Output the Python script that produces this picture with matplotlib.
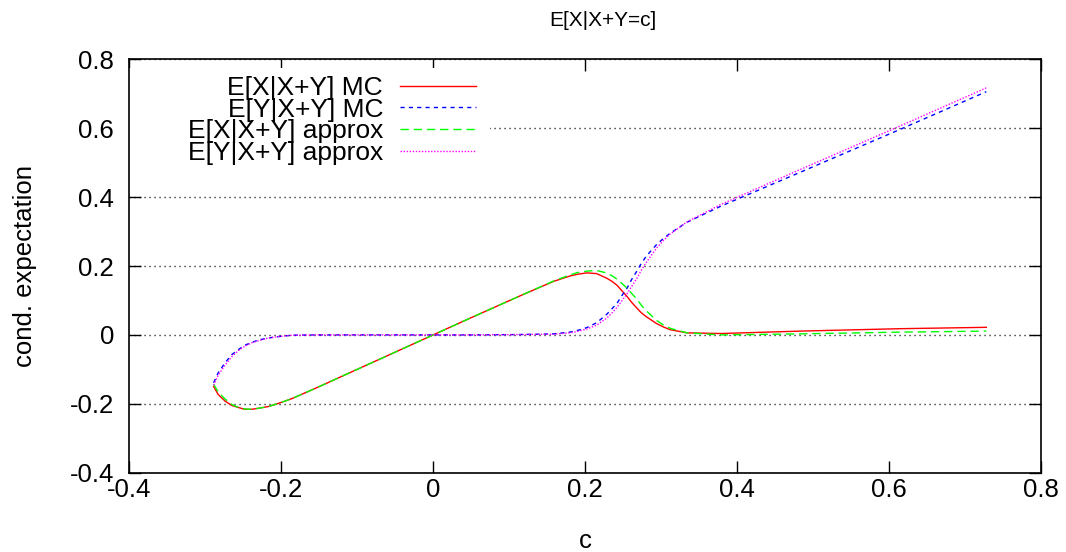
import matplotlib
matplotlib.use("Agg")
import matplotlib.pyplot as plt
from matplotlib.patches import Rectangle

plt.rcParams['font.family'] = ['Liberation Sans', 'DejaVu Sans']

# ---- data ----
c_vals = [-0.289, -0.283, -0.274, -0.265, -0.256, -0.248, -0.239, -0.230, -0.217,
          -0.204, -0.186, -0.156, -0.100, -0.050, 0.000, 0.050, 0.114, 0.158,
          0.180, 0.190, 0.202, 0.215, 0.228, 0.235, 0.242, 0.248, 0.255, 0.261,
          0.268, 0.274, 0.281, 0.294, 0.303, 0.312, 0.334, 0.378, 0.483, 0.614,
          0.728]

x_mc = [-0.150, -0.173, -0.192, -0.205, -0.211, -0.216, -0.216, -0.213, -0.208,
        -0.199, -0.185, -0.156, -0.100, -0.050, 0.000, 0.050, 0.113, 0.155,
        0.171, 0.176, 0.180, 0.178, 0.165, 0.156, 0.144, 0.129, 0.112, 0.095,
        0.078, 0.064, 0.052, 0.033, 0.023, 0.015, 0.006, 0.004, 0.011, 0.018,
        0.022]

y_mc = [-0.139, -0.110, -0.081, -0.057, -0.042, -0.030, -0.022, -0.015, -0.009,
        -0.005, -0.001, 0.000, 0.000, 0.000, 0.000, 0.000, 0.001, 0.003,
        0.008, 0.013, 0.021, 0.035, 0.059, 0.075, 0.092, 0.113, 0.135, 0.160,
        0.185, 0.208, 0.230, 0.262, 0.280, 0.295, 0.327, 0.373, 0.472, 0.596,
        0.706]

x_ap = [-0.143, -0.166, -0.186, -0.202, -0.211, -0.215, -0.216, -0.213, -0.208,
        -0.199, -0.185, -0.156, -0.100, -0.050, 0.000, 0.050, 0.113, 0.156,
        0.174, 0.181, 0.185, 0.187, 0.180, 0.172, 0.162, 0.150, 0.136, 0.121,
        0.104, 0.086, 0.069, 0.042, 0.029, 0.019, 0.006, 0.000, 0.003, 0.008,
        0.011]

y_ap = [-0.146, -0.117, -0.088, -0.063, -0.045, -0.033, -0.023, -0.017, -0.009,
        -0.005, -0.001, 0.000, 0.000, 0.000, 0.000, 0.000, 0.001, 0.002,
        0.006, 0.010, 0.017, 0.028, 0.048, 0.063, 0.080, 0.098, 0.119, 0.140,
        0.164, 0.188, 0.212, 0.252, 0.274, 0.293, 0.328, 0.378, 0.480, 0.606,
        0.717]

labels = ["E[X|X+Y] MC", "E[Y|X+Y] MC", "E[X|X+Y] approx", "E[Y|X+Y] approx"]
title = "E[X|X+Y=c]"
xlabel = "c"
ylabel = "cond. expectation"
xticks = [-0.4, -0.2, 0, 0.2, 0.4, 0.6, 0.8]
yticks = [-0.4, -0.2, 0, 0.2, 0.4, 0.6, 0.8]

# ---- figure ----
W, H = 1066, 552
fig = plt.figure(figsize=(W / 100, H / 100), dpi=100)
L, R, T, B = 129.3, 1041.0, 59.3, 472.7
ax = fig.add_axes([L / W, (H - B) / H, (R - L) / W, (B - T) / H])

fs = 18.5
ax.set_xlim(-0.4, 0.8)
ax.set_ylim(-0.4, 0.8)
ax.set_xticks(xticks)
ax.set_yticks(yticks)
ax.set_xticklabels([f"{t:g}" for t in xticks])
ax.set_yticklabels([f"{t:g}" for t in yticks])
ax.tick_params(direction='in', length=8.5, width=1.0, top=True, right=True,
               labelsize=fs)
ax.tick_params(axis='x', pad=4)
ax.tick_params(axis='y', pad=11)
for s in ax.spines.values():
    s.set_linewidth(1.2)

ax.set_axisbelow(True)
ax.yaxis.grid(True, color='black', linewidth=1.0, linestyle=(0, (0.8, 2.8)))
ax.xaxis.grid(False)

# white box behind legend (hides grid there)
ax.add_patch(Rectangle((0.0, 0.73), (490 - L) / (R - L), 0.25, transform=ax.transAxes,
                       facecolor='white', edgecolor='none', zorder=1))

lw = 1.0
ax.plot(c_vals, x_mc, color='#ff0000', lw=lw, linestyle='-', label=labels[0], zorder=3)
ax.plot(c_vals, y_mc, color='#0000ff', lw=lw, linestyle=(0, (3, 3)), label=labels[1], zorder=3)
ax.plot(c_vals, x_ap, color='#00ff00', lw=lw, linestyle=(0, (6, 3.5)), label=labels[2], zorder=3)
ax.plot(c_vals, y_ap, color='#ff00ff', lw=lw, linestyle=(0, (1, 1.2)), label=labels[3], zorder=3)

lfs = 19
leg = ax.legend(loc='upper right', bbox_to_anchor=((476 - L) / (R - L), (B - 76) / (B - T)),
                markerfirst=False, frameon=False, fontsize=lfs, handlelength=2.88,
                handletextpad=0.64, labelspacing=-0.09, borderaxespad=0.0, borderpad=0.0)

fig.text(603 / W, 1 - 21 / H, title, ha='center', va='center', fontsize=15)
ax.set_xlabel(xlabel, fontsize=fs)
ax.xaxis.set_label_coords(0.5, -0.135)
ax.set_ylabel(ylabel, fontsize=fs)
ax.yaxis.set_label_coords(-0.1016, 0.5)

fig.savefig("out.png", dpi=100)
